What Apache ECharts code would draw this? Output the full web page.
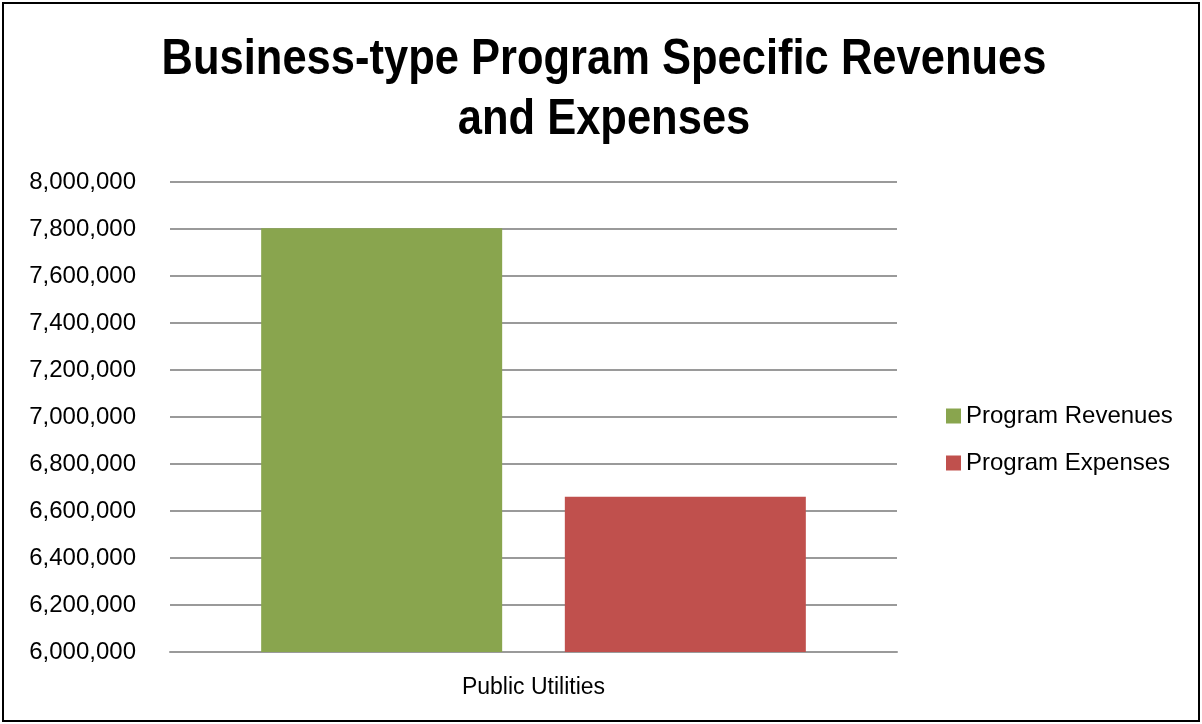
<!DOCTYPE html>
<html>
<head>
<meta charset="utf-8">
<script src="https://cdn.jsdelivr.net/npm/echarts@6/dist/echarts.min.js"></script>
<style>
  html, body { margin: 0; padding: 0; background: #fff; }
  #chart { width: 1202px; height: 724px; }
</style>
</head>
<body>
<div id="chart"></div>
<script>
// Business-type activities: program revenues vs. program expenses
var titleText = 'Business-type Program Specific Revenues\nand Expenses';
var categories = ['Public Utilities'];
var seriesNames = ['Program Revenues', 'Program Expenses'];
var programRevenues = [7803000];
var programExpenses = [6661000];
var seriesColors = ['#89A54E', '#C0504D'];

var FONT = '"Liberation Sans", Arial, sans-serif';

var chart = echarts.init(document.getElementById('chart'), null, { renderer: 'canvas' });

function fmt(v) {
  return v.toLocaleString('en-US');
}

chart.setOption({
  backgroundColor: '#ffffff',
  animation: false,
  legend: {
    orient: 'vertical',
    left: 941,
    top: 399,
    itemWidth: 15,
    itemHeight: 15,
    itemGap: 23,
    icon: 'rect',
    data: seriesNames,
    textStyle: { fontFamily: FONT, fontSize: 24, color: '#000', padding: [0, 0, 0, 0] }
  },
  grid: {
    left: 170,
    right: 305,
    top: 182,
    bottom: 72,
    containLabel: false
  },
  xAxis: {
    type: 'category',
    data: categories,
    axisTick: { show: false },
    axisLine: { lineStyle: { color: '#9a9a9a', width: 2 } },
    axisLabel: { fontFamily: FONT, fontSize: 23, color: '#000', margin: 24 }
  },
  yAxis: {
    type: 'value',
    min: 6000000,
    max: 8000000,
    interval: 200000,
    axisLine: { show: false },
    axisTick: { show: false },
    splitLine: { lineStyle: { color: '#9a9a9a', width: 2 } },
    axisLabel: {
      fontFamily: FONT,
      fontSize: 24,
      color: '#000',
      margin: 34,
      formatter: fmt
    }
  },
  series: [
    {
      name: seriesNames[0],
      type: 'bar',
      data: programRevenues,
      barWidth: 241,
      barGap: '26%',
      itemStyle: { color: seriesColors[0] }
    },
    {
      name: seriesNames[1],
      type: 'bar',
      data: programExpenses,
      barWidth: 241,
      barGap: '26%',
      itemStyle: { color: seriesColors[1] }
    }
  ],
  graphic: [
    {
      // chart title, set in a tall condensed bold face
      type: 'text',
      x: 604,
      y: 30,
      scaleY: 1.16,
      silent: true,
      style: {
        text: titleText,
        fontFamily: FONT,
        fontWeight: 'bold',
        fontSize: 43.5,
        lineHeight: 52,
        fill: '#000',
        align: 'center',
        verticalAlign: 'top'
      }
    },
    {
      type: 'rect',
      shape: { x: 3, y: 3, width: 1196, height: 718 },
      style: { fill: 'none', stroke: '#000', lineWidth: 2 },
      silent: true,
      z: 100
    }
  ]
});
</script>
</body>
</html>
